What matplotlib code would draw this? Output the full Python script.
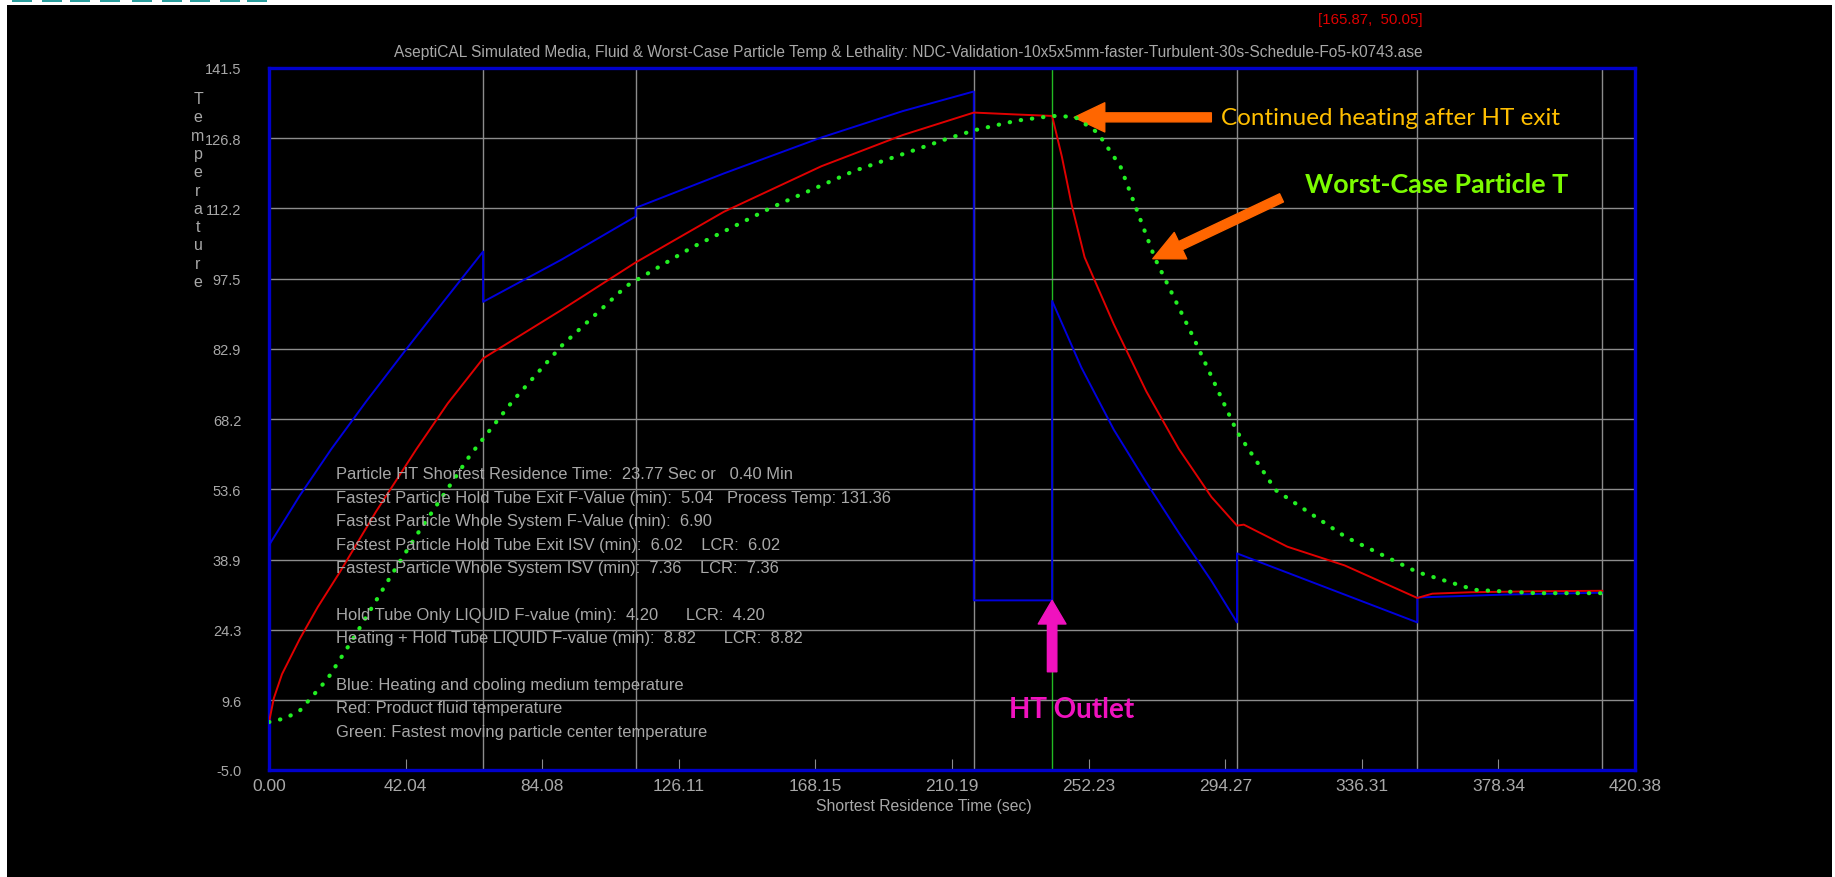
import numpy as np
import matplotlib.pyplot as plt
from matplotlib.patches import Rectangle

# ---- data ----
x_ticks = [0.00, 42.04, 84.08, 126.11, 168.15, 210.19, 252.23, 294.27, 336.31, 378.34, 420.38]
y_ticks = [-5.0, 9.6, 24.3, 38.9, 53.6, 68.2, 82.9, 97.5, 112.2, 126.8, 141.5]
section_t = [65.9, 112.8, 216.9, 297.9, 353.4, 410.3]
ht_outlet_t = 241.0

# blue: heating / cooling medium
blue_t = [0, 9.5, 19.2, 30, 42, 54, 65.9,
          65.9, 90, 112.8, 112.8, 140, 170, 195, 216.9,
          216.9, 241.0, 241.0, 250, 260, 270, 280, 290, 297.9,
          297.9, 353.4, 353.4, 380, 410.3]
blue_v = [41.9, 52.3, 62.0, 72.0, 82.6, 93.0, 103.2,
          92.7, 101.5, 110.5, 112.3, 119.5, 127.0, 132.5, 136.6,
          30.4, 30.4, 92.9, 79.0, 66.0, 55.0, 44.5, 34.5, 25.8,
          40.2, 25.8, 31.0, 31.6, 32.0]

# red: product fluid
red_t = [0, 1.5, 4, 9.5, 15, 21.8, 33, 45.4, 55, 65.9,
         90, 112.8, 140, 170, 195, 216.9, 230, 241,
         244, 247, 251, 260, 270, 280, 290, 297.9,
         300, 313.4, 331, 353.4, 358, 370, 390, 410.3]
red_v = [5.0, 10.0, 15.0, 22.4, 29.0, 36.3, 49.0, 62.0, 71.5, 80.9,
         91.0, 100.9, 111.5, 121.0, 127.5, 132.2, 131.8, 131.5,
         123.0, 113.0, 102.0, 88.0, 74.0, 62.0, 52.0, 46.0,
         46.2, 41.6, 37.7, 30.9, 31.8, 32.1, 32.3, 32.4]

# green: fastest particle centre
green_t = [0, 5, 9.5, 18, 25.9, 37.7, 45.6, 61.8, 75, 90, 110, 130, 155, 180, 209,
           217, 230, 241, 248, 255, 262, 272.7, 284.6, 297.9, 309.8, 331.4, 353.4,
           371, 390, 410.3]
green_v = [5.0, 5.8, 7.4, 14.0, 22.4, 35.7, 44.2, 60.6, 72.0, 83.5, 96.0, 104.0, 112.5, 120.0, 126.8,
           128.5, 130.5, 131.5, 131.3, 128.0, 121.0, 101.7, 85.1, 65.6, 53.4, 43.6, 36.3,
           32.6, 31.9, 31.9]

info_lines = [
    "Particle HT Shortest Residence Time:  23.77 Sec or   0.40 Min",
    "Fastest Particle Hold Tube Exit F-Value (min):  5.04   Process Temp: 131.36",
    "Fastest Particle Whole System F-Value (min):  6.90",
    "Fastest Particle Hold Tube Exit ISV (min):  6.02    LCR:  6.02",
    "Fastest Particle Whole System ISV (min):  7.36    LCR:  7.36",
    "",
    "Hold Tube Only LIQUID F-value (min):  4.20      LCR:  4.20",
    "Heating + Hold Tube LIQUID F-value (min):  8.82      LCR:  8.82",
    "",
    "Blue: Heating and cooling medium temperature",
    "Red: Product fluid temperature",
    "Green: Fastest moving particle center temperature",
]

title = ("AseptiCAL Simulated Media, Fluid & Worst-Case Particle Temp & Lethality: "
         "NDC-Validation-10x5x5mm-faster-Turbulent-30s-Schedule-Fo5-k0743.ase")

sans = ['Liberation Sans', 'DejaVu Sans']
grey = '#a8a8a8'
W, H = 1835, 878

fig = plt.figure(figsize=(W / 100, H / 100), dpi=100, facecolor='black')

# window frame bits
fig.patches.append(Rectangle((0, 1 - 6 / H), 1, 6 / H, transform=fig.transFigure,
                             facecolor='white', edgecolor='none'))
fig.patches.append(Rectangle((0, 0), 7 / W, 1, transform=fig.transFigure,
                             facecolor='white', edgecolor='none'))
fig.patches.append(Rectangle((1 - 3 / W, 0), 3 / W, 1, transform=fig.transFigure,
                             facecolor='white', edgecolor='none'))
for x0 in [12, 42, 70, 100, 132, 162, 190, 220, 247]:
    fig.patches.append(Rectangle((x0 / W, 1 - 3 / H), 20 / W, 3 / H, transform=fig.transFigure,
                                 facecolor='#2a9d9d', edgecolor='none'))

ax = fig.add_axes([269 / W, 107 / H, 1366 / W, 702 / H], facecolor='black')

for s in ax.spines.values():
    s.set_color('#0000cc')
    s.set_linewidth(2.4)

ax.set_xlim(x_ticks[0], x_ticks[-1])
ax.set_ylim(y_ticks[0], y_ticks[-1])
ax.set_xticks(x_ticks)
ax.set_xticklabels([f"{v:.2f}" for v in x_ticks])
ax.set_yticks(y_ticks)
ax.set_yticklabels([f"{v:.1f}" for v in y_ticks])
ax.tick_params(axis='x', direction='in', length=8, color='#8c8c8c', labelcolor=grey,
               labelsize=12.5, pad=6)
ax.tick_params(axis='y', length=0, labelcolor=grey, labelsize=10.5, pad=20)
for lab in ax.get_xticklabels() + ax.get_yticklabels():
    lab.set_family(sans)

ax.grid(axis='y', color='#8c8c8c', lw=1)
for t in section_t:
    ax.axvline(t, color='#8c8c8c', lw=1, zorder=1)
ax.axvline(ht_outlet_t, color='#22bb22', lw=1, zorder=1)

ax.plot(blue_t, blue_v, color='#0000dd', lw=1.4, zorder=3)
ax.plot(red_t, red_v, color='#e00000', lw=1.4, zorder=4)
ax.plot(green_t, green_v, color='#22ee22', lw=3.0, linestyle=(0, (0.1, 2.6)),
        dash_capstyle='round', zorder=5)

# info block
for i, line in enumerate(info_lines):
    ax.text(20.6, 56.8 - i * 4.88, line, color=grey, fontsize=11.9,
            family=sans, va='center', ha='left', zorder=6)

# annotations
ax.annotate('', xy=(247.8, 131.2), xytext=(290.0, 131.2),
            arrowprops=dict(width=6.5, headwidth=21, headlength=22, color='#ff6600', shrink=0))
ax.text(292.9, 131.2, "Continued heating after HT exit", color='#ffbf00', fontsize=17.5,
        family='Lato', va='center', ha='left')
ax.annotate('', xy=(272.0, 101.7), xytext=(311.6, 114.4),
            arrowprops=dict(width=6.5, headwidth=21, headlength=22, color='#ff6600', shrink=0))
ax.text(318.8, 117.3, "Worst-Case Particle T", color='#7cfc00', fontsize=19.4,
        family='Lato', weight='bold', va='center', ha='left')
ax.annotate('', xy=(ht_outlet_t, 30.4), xytext=(ht_outlet_t, 15.5),
            arrowprops=dict(width=6.8, headwidth=20, headlength=17, color='#f012be', shrink=0))
ax.text(247.1, 7.7, "HT Outlet", color='#f012be', fontsize=20,
        family='Lato', weight='bold', va='center', ha='center')

# titles and labels
fig.text(908 / W, 1 - 53 / H, title, color=grey, fontsize=11.2, family=sans,
         ha='center', va='center')
fig.text(924 / W, 1 - 807 / H, "Shortest Residence Time (sec)", color=grey,
         fontsize=11.3, family=sans, ha='center', va='center')
for i, ch in enumerate("Temperature"):
    fig.text(198 / W, 1 - (99.5 + i * 18.3) / H, ch, color=grey, fontsize=11.5,
             family=sans, ha='center', va='center')
fig.text(1370 / W, 1 - 20 / H, "[165.87,  50.05]", color='#e00000', fontsize=10.8,
         family=sans, ha='center', va='center')

fig.savefig('out.png', dpi=100, facecolor='black')
